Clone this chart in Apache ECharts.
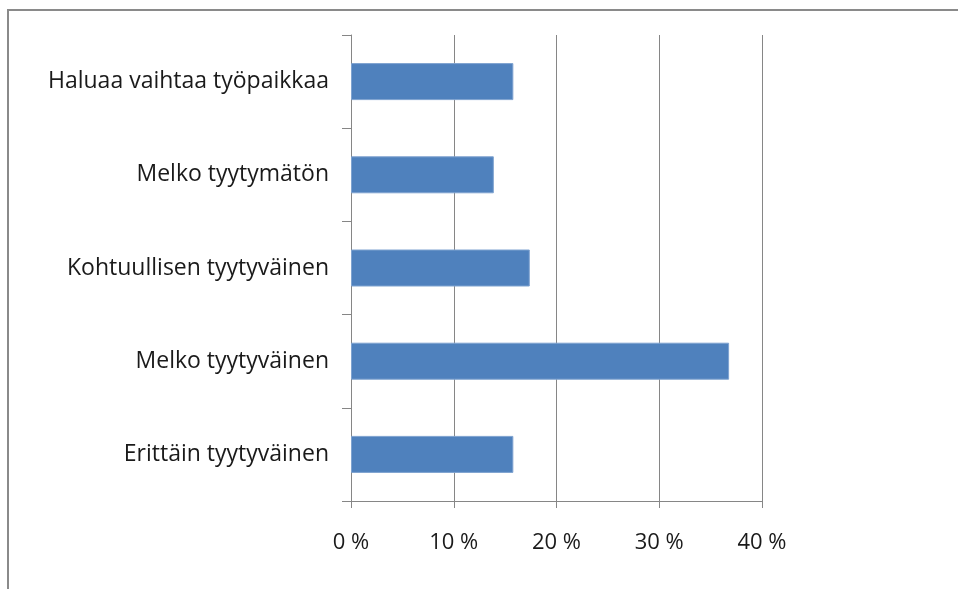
<!DOCTYPE html>
<html>
<head>
<meta charset="utf-8">
<script src="https://cdn.jsdelivr.net/npm/echarts@6/dist/echarts.min.js"></script>
<style>
  html, body { margin: 0; padding: 0; background: #fff; }
  #chart { width: 958px; height: 589px; }
</style>
</head>
<body>
<div id="chart"></div>
<script>
// categories bottom to top (category axis starts at bottom)
var categories = ['Erittäin tyytyväinen', 'Melko tyytyväinen', 'Kohtuullisen tyytyväinen', 'Melko tyytymätön', 'Haluaa vaihtaa työpaikkaa'];
var shares = [15.8, 36.8, 17.4, 13.9, 15.8];
var tickValues = [0, 10, 20, 30, 40];

var chart = echarts.init(document.getElementById('chart'));
var option = {
  animation: false,
  textStyle: { fontFamily: 'Open Sans' },
  graphic: [{
    type: 'rect',
    shape: { x: 8, y: 10, width: 1200, height: 1200 },
    style: { fill: 'none', stroke: '#8a8a8a', lineWidth: 2 },
    silent: true
  }],
  grid: { left: 351, right: 196, top: 35, bottom: 88 },
  xAxis: {
    type: 'value',
    min: tickValues[0],
    max: tickValues[tickValues.length - 1],
    interval: 10,
    axisLine: { show: true, lineStyle: { color: '#868686', width: 1 } },
    axisTick: { show: true, length: 7, lineStyle: { color: '#868686' } },
    splitLine: { show: true, lineStyle: { color: '#868686', width: 1 } },
    axisLabel: { formatter: '{value} %', color: '#1a1a1a', fontSize: 22, margin: 31 }
  },
  yAxis: {
    type: 'category',
    data: categories,
    axisLine: { show: true, lineStyle: { color: '#868686', width: 1 } },
    axisTick: { show: true, length: 9, alignWithLabel: false, lineStyle: { color: '#868686' } },
    axisLabel: { color: '#1a1a1a', fontSize: 23, margin: 22 }
  },
  series: [{
    type: 'bar',
    data: shares,
    barWidth: 37,
    itemStyle: { color: '#4f81bd', borderColor: '#7fa3d0', borderWidth: 1 }
  }]
};
chart.setOption(option);
</script>
</body>
</html>
